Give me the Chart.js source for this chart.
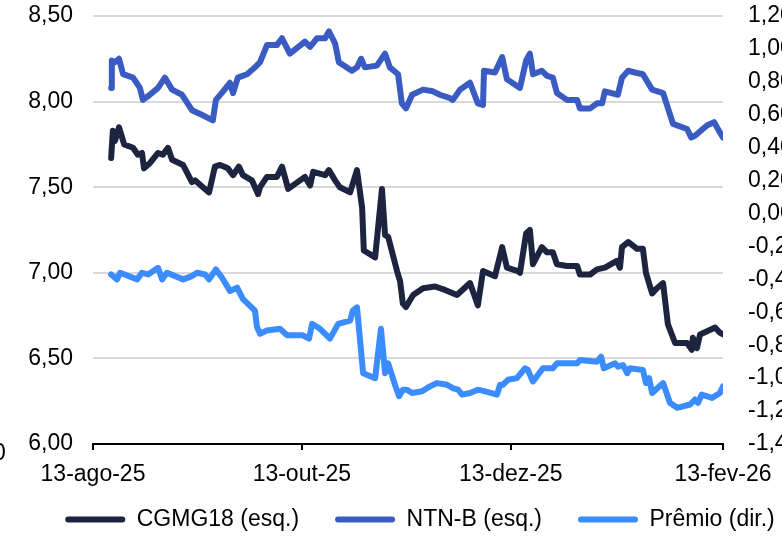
<!DOCTYPE html>
<html lang="pt-BR">
<head>
<meta charset="utf-8">
<script src="https://cdn.jsdelivr.net/npm/chart.js@4.4.1/dist/chart.umd.min.js"></script>
<style>
  html, body { margin: 0; padding: 0; background: #fff; }
  #wrap { width: 782px; height: 554px; position: relative; }
</style>
</head>
<body>
<div id="wrap"><canvas id="grafico"></canvas></div>
<script>
// dias corridos desde 13-ago-25
const tickDias = [0, 61, 122, 184];
const tickLabels = ["13-ago-25", "13-out-25", "13-dez-25", "13-fev-26"];

const diasCGMG = [5.3,5.8,6.4,7.6,9.1,11.7,13.1,14.3,14.9,16.6,
  19.0,20.4,21.9,23.1,26.3,28.9,29.8,32.1,33.9,35.6,
  37.1,39.4,40.9,42.6,43.8,46.4,48.2,48.8,50.8,53.7,
  55.2,57.0,61.9,63.4,64.3,67.8,68.9,70.7,72.1,75.1,
  77.1,78.6,79.1,82.4,84.4,85.3,86.2,88.8,89.7,90.5,
  91.4,93.5,96.4,99.9,102.8,106.3,110.1,112.4,113.9,117.4,
  119.5,120.9,124.1,124.7,126.5,127.6,128.5,131.1,132.6,134.3,
  135.5,138.4,141.4,142.2,145.2,147.2,149.5,153.0,153.9,154.5,
  156.3,158.9,160.6,161.5,163.3,164.7,166.5,167.9,170.0,173.5,
  174.9,175.2,176.4,177.3,181.7,183.1,184];
const cgmg18 = [7.67,7.83,7.77,7.85,7.75,7.73,7.69,7.70,7.61,7.64,
  7.70,7.69,7.73,7.66,7.63,7.53,7.54,7.50,7.47,7.62,
  7.63,7.61,7.57,7.62,7.57,7.54,7.46,7.50,7.56,7.56,
  7.62,7.49,7.56,7.51,7.59,7.57,7.60,7.54,7.50,7.47,
  7.60,7.38,7.13,7.09,7.49,7.22,7.21,7.01,6.95,6.82,
  6.80,6.87,6.91,6.92,6.90,6.87,6.94,6.81,7.01,6.98,
  7.15,7.03,7.01,7.00,7.23,7.25,7.05,7.15,7.12,7.12,
  7.05,7.04,7.04,6.99,6.99,7.02,7.03,7.07,7.03,7.15,
  7.18,7.14,7.14,7.00,6.88,6.91,6.94,6.70,6.59,6.59,
  6.55,6.62,6.56,6.64,6.68,6.65,6.64];

const diasNTNB = [5.3,5.5,6.4,7.6,8.8,11.7,13.7,14.6,16.6,19.0,
  21.0,23.1,26.0,28.9,32.1,35.0,35.9,38.0,40.0,40.9,
  42.3,45.0,47.3,48.8,50.8,53.7,55.2,57.5,61.9,63.4,
  65.4,67.8,68.9,70.7,71.8,75.6,77.1,78.3,79.4,82.9,
  85.3,86.7,89.1,90.2,91.4,93.2,96.4,99.3,101.3,104.3,
  105.1,107.2,110.1,112.4,113.9,114.2,117.4,119.5,120.9,124.7,
  126.5,127.6,128.5,131.1,132.6,134.3,135.5,138.4,141.4,142.2,
  145.2,147.2,148.7,149.5,153.3,154.5,156.3,158.3,160.6,163.3,
  166.5,169.4,173.5,174.7,175.8,179.3,181.4,183.1,184];
const ntnb = [8.08,8.24,8.23,8.25,8.16,8.14,8.08,8.01,8.04,8.08,
  8.14,8.07,8.04,7.95,7.92,7.89,8.01,8.06,8.11,8.05,
  8.14,8.16,8.20,8.23,8.33,8.33,8.37,8.28,8.35,8.32,
  8.37,8.37,8.41,8.34,8.23,8.18,8.20,8.25,8.20,8.21,
  8.28,8.20,8.16,7.99,7.96,8.04,8.07,8.06,8.04,8.02,
  8.01,8.07,8.11,7.99,7.98,8.18,8.17,8.26,8.13,8.08,
  8.24,8.28,8.16,8.18,8.15,8.14,8.05,8.01,8.01,7.96,
  7.96,7.99,7.99,8.06,8.04,8.14,8.18,8.17,8.16,8.07,
  8.05,7.87,7.84,7.79,7.80,7.86,7.88,7.82,7.79];

const diasPremio = [5.3,7.0,7.9,12.9,14.3,16.1,19.0,20.2,21.6,26.3,
  28.9,30.4,32.7,33.9,35.9,37.7,40.0,42.1,43.8,47.3,
  47.9,48.8,50.8,54.6,56.7,61.3,63.1,64.0,66.3,69.2,
  71.6,75.1,75.9,77.1,78.9,82.4,84.1,85.3,86.2,88.2,
  89.4,90.5,91.7,93.2,96.1,98.4,100.5,103.4,105.1,106.6,
  107.8,110.1,112.4,114.5,118.0,118.9,119.7,121.2,123.8,126.2,
  127.0,128.5,131.4,134.3,135.5,141.4,142.2,147.2,148.4,149.2,
  152.5,153.3,154.8,156.0,156.8,160.6,161.5,162.4,163.3,166.5,
  168.5,170.6,174.4,175.8,176.7,177.8,180.8,183.1,184];
const premio = [-0.37,-0.40,-0.36,-0.40,-0.36,-0.37,-0.33,-0.40,-0.36,-0.40,
  -0.38,-0.36,-0.37,-0.40,-0.34,-0.39,-0.47,-0.45,-0.52,-0.59,
  -0.69,-0.73,-0.71,-0.70,-0.74,-0.74,-0.76,-0.67,-0.70,-0.76,
  -0.67,-0.65,-0.59,-0.57,-0.97,-1.00,-0.70,-0.97,-0.91,-1.04,
  -1.11,-1.07,-1.07,-1.09,-1.08,-1.05,-1.03,-1.04,-1.06,-1.07,
  -1.10,-1.09,-1.07,-1.08,-1.10,-1.04,-1.04,-1.01,-1.00,-0.94,
  -0.95,-1.02,-0.94,-0.94,-0.91,-0.91,-0.89,-0.90,-0.87,-0.94,
  -0.91,-0.93,-0.92,-0.97,-0.94,-0.95,-1.03,-1.00,-1.09,-1.03,
  -1.15,-1.18,-1.16,-1.13,-1.15,-1.10,-1.12,-1.09,-1.05];

const FONTE = "'Liberation Sans', Arial, sans-serif";
const TAM = 23;
const pontos = (xs, ys) => xs.map((x, i) => ({ x: x, y: ys[i] }));
const fmt = v => (Math.abs(v) < 1e-9 ? 0 : v).toFixed(2).replace(".", ",");

// desloca a legenda e desenha o resto de rótulo cortado à esquerda
const ajustes = {
  id: "ajustes",
  afterLayout(chart) {
    const lg = chart.legend;
    const dx = 29, dy = -32;
    lg.left += dx; lg.right += dx; lg.top += dy; lg.bottom += dy;
  },
  afterDraw(chart) {
    const ctx = chart.ctx;
    ctx.save();
    ctx.font = TAM + "px " + FONTE;
    ctx.fillStyle = "#000";
    ctx.textBaseline = "middle";
    ctx.fillText("0", -7, 454);
    ctx.restore();
  }
};

const linha = (label, data, cor, eixo) => ({
  label: label,
  data: data,
  yAxisID: eixo,
  borderColor: cor,
  backgroundColor: cor,
  borderWidth: 6,
  pointRadius: 0,
  tension: 0,
  borderJoinStyle: "round",
  borderCapStyle: "round"
});

new Chart(document.getElementById("grafico"), {
  type: "line",
  data: {
    datasets: [
      linha("CGMG18 (esq.)", pontos(diasCGMG, cgmg18), "#1c2440", "y"),
      linha("NTN-B (esq.)", pontos(diasNTNB, ntnb), "#3a5cc2", "y"),
      linha("Prêmio (dir.)", pontos(diasPremio, premio), "#3b8cff", "y1")
    ]
  },
  options: {
    responsive: true,
    maintainAspectRatio: false,
    animation: false,
    layout: { padding: { top: 16, bottom: -19, left: 0, right: 0 } },
    plugins: {
      tooltip: { enabled: false },
      legend: {
        position: "bottom",
        labels: {
          font: { family: FONTE, size: TAM },
          color: "#000",
          boxWidth: 60,
          boxHeight: 6,
          padding: 36,
          useBorderRadius: true,
          borderRadius: 3,
          generateLabels: chart => chart.data.datasets.map((d, i) => ({
            text: d.label,
            fillStyle: d.borderColor,
            strokeStyle: d.borderColor,
            lineWidth: 0,
            hidden: false,
            datasetIndex: i,
            borderRadius: 3
          }))
        }
      }
    },
    scales: {
      x: {
        type: "linear",
        min: 0,
        max: 184,
        afterBuildTicks: scale => { scale.ticks = tickDias.map(v => ({ value: v })); },
        afterFit: scale => { scale.height = 60; },
        grid: { drawOnChartArea: false, drawTicks: true, tickLength: 6, color: "#000", lineWidth: 2 },
        border: { display: true, color: "#000", width: 2 },
        ticks: {
          autoSkip: false,
          maxRotation: 0,
          padding: 6,
          color: "#000",
          font: { family: FONTE, size: TAM, lineHeight: 1.6 },
          callback: v => tickLabels[tickDias.indexOf(v)]
        }
      },
      y: {
        position: "left",
        min: 6,
        max: 8.5,
        afterFit: scale => { scale.width = 93; },
        grid: {
          drawTicks: true,
          tickLength: 20,
          tickColor: "rgba(0,0,0,0)",
          lineWidth: 2,
          color: c => (c.tick && c.tick.value === 6 ? "rgba(0,0,0,0)" : "#d9d9d9")
        },
        border: { display: false },
        ticks: {
          stepSize: 0.5,
          padding: 0,
          color: "#000",
          font: { family: FONTE, size: TAM },
          callback: v => fmt(v)
        }
      },
      y1: {
        position: "right",
        min: -1.4,
        max: 1.2,
        afterFit: scale => { scale.width = 59; },
        grid: { display: false, drawTicks: true, tickLength: 25 },
        border: { display: false },
        ticks: {
          stepSize: 0.2,
          padding: 0,
          color: "#000",
          font: { family: FONTE, size: TAM },
          callback: v => fmt(v)
        }
      }
    }
  },
  plugins: [ajustes]
});
</script>
</body>
</html>
